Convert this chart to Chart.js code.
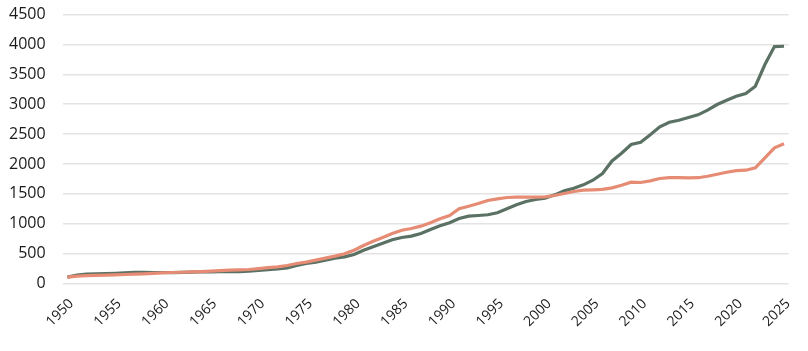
<!DOCTYPE html>
<html>
<head>
<meta charset="utf-8">
<script src="https://cdn.jsdelivr.net/npm/chart.js@4"></script>
<style>
  html, body { margin: 0; padding: 0; background: #fff; }
  #wrap { width: 808px; height: 351px; position: relative; }
</style>
</head>
<body>
<div id="wrap"><canvas id="lineChart"></canvas></div>
<script>
// Years on the x axis
const years = [
    1950, 1951, 1952, 1953, 1954, 1955, 1956, 1957, 1958, 1959,
    1960, 1961, 1962, 1963, 1964, 1965, 1966, 1967, 1968, 1969,
    1970, 1971, 1972, 1973, 1974, 1975, 1976, 1977, 1978, 1979,
    1980, 1981, 1982, 1983, 1984, 1985, 1986, 1987, 1988, 1989,
    1990, 1991, 1992, 1993, 1994, 1995, 1996, 1997, 1998, 1999,
    2000, 2001, 2002, 2003, 2004, 2005, 2006, 2007, 2008, 2009,
    2010, 2011, 2012, 2013, 2014, 2015, 2016, 2017, 2018, 2019,
    2020, 2021, 2022, 2023, 2024, 2025
];

// Dark green series
const greenValues = [
    106, 139, 155, 160, 165, 170, 178, 185, 186, 184,
    184, 183, 185, 190, 192, 195, 196, 197, 200, 207,
    217, 230, 245, 262, 300, 335, 357, 390, 424, 446,
    485, 557, 614, 675, 731, 770, 792, 837, 903, 965,
    1015, 1087, 1126, 1138, 1150, 1183, 1250, 1317, 1372, 1405,
    1427, 1483, 1550, 1594, 1651, 1728, 1840, 2050, 2180, 2325,
    2364, 2488, 2621, 2699, 2732, 2777, 2822, 2900, 2995, 3067,
    3134, 3179, 3301, 3664, 3965, 3970
];

// Salmon series
const salmonValues = [
    106, 123, 130, 135, 140, 145, 150, 156, 162, 170,
    178, 184, 188, 195, 200, 206, 214, 223, 228, 234,
    250, 265, 279, 301, 335, 357, 390, 424, 457, 497,
    557, 636, 708, 770, 837, 892, 920, 959, 1015, 1082,
    1138, 1250, 1293, 1338, 1389, 1417, 1439, 1444, 1444, 1444,
    1450, 1472, 1506, 1539, 1561, 1567, 1575, 1600, 1645, 1695,
    1690, 1718, 1757, 1773, 1773, 1768, 1770, 1795, 1829, 1862,
    1890, 1896, 1936, 2103, 2270, 2337
];

const yMax = 4500;
const yStep = 500;

const ctx = document.getElementById('lineChart').getContext('2d');
const lineChart = new Chart(ctx, {
    type: 'line',
    data: {
        labels: years,
        datasets: [{
            label: 'Salmon',
            data: salmonValues,
            borderColor: '#e68c75',
            borderWidth: 3.2,
            pointRadius: 0,
            tension: 0,
            fill: false
        }, {
            label: 'Green',
            data: greenValues,
            borderColor: '#5a7164',
            borderWidth: 3.2,
            pointRadius: 0,
            tension: 0,
            fill: false
        }]
    },
    options: {
        responsive: true,
        maintainAspectRatio: false,
        animation: false,
        layout: {
            padding: { top: 0, right: 16, bottom: 9, left: 4 }
        },
        plugins: {
            legend: { display: false },
            tooltip: { enabled: false }
        },
        scales: {
            x: {
                offset: true,
                grid: { display: false, drawTicks: false },
                border: { display: false },
                ticks: {
                    autoSkip: false,
                    minRotation: 45,
                    maxRotation: 45,
                    padding: 12,
                    labelOffset: 4,
                    color: '#1a1a1a',
                    font: { family: 'Open Sans', size: 14 },
                    callback: function (value, index) {
                        const year = years[index];
                        return year % 5 === 0 ? String(year) : '';
                    }
                }
            },
            y: {
                min: 0,
                max: yMax,
                // invisible tick marks give the gap between labels and plot
                grid: { color: '#e3e3e3', lineWidth: 1.5, drawTicks: true, tickLength: 12, tickColor: 'rgba(0,0,0,0)' },
                border: { display: false },
                ticks: {
                    stepSize: yStep,
                    padding: 5,
                    color: '#1a1a1a',
                    font: { family: 'Open Sans', size: 16 },
                    callback: function (value) {
                        return String(value);
                    }
                }
            }
        }
    }
});
</script>
</body>
</html>
